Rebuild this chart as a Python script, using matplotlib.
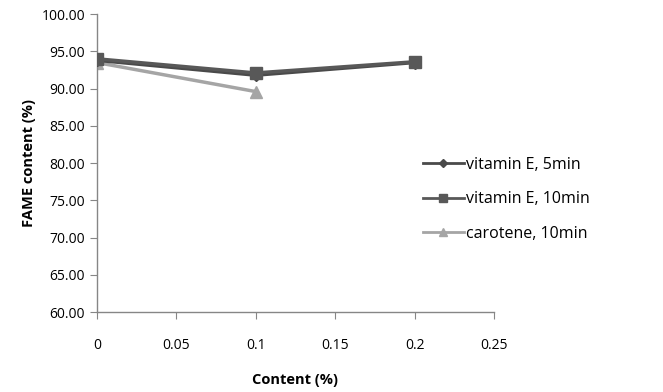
import matplotlib.pyplot as plt
from matplotlib.ticker import FormatStrFormatter

plt.rcParams["font.family"] = "Open Sans"

# data
content = [0, 0.1, 0.2]
vit_e_5min = [93.8, 91.8, 93.5]
vit_e_10min = [94.0, 92.1, 93.6]
carotene_content = [0, 0.1]
carotene_10min = [93.5, 89.6]

fig = plt.figure(figsize=(6.63, 3.92), dpi=100)
ax = fig.add_axes([0.146, 0.204, 0.599, 0.76])

ax.plot(content, vit_e_5min, color="#4a4a4a", lw=2.5, marker="D", ms=6,
        label="vitamin E, 5min", zorder=3)
ax.plot(content, vit_e_10min, color="#585858", lw=2.5, marker="s", ms=9,
        label="vitamin E, 10min", zorder=4)
ax.plot(carotene_content, carotene_10min, color="#a5a5a5", lw=2.5, marker="^", ms=8,
        label="carotene, 10min", zorder=2)

ax.set_xlim(0, 0.25)
ax.set_ylim(60, 100)
ax.set_xticks([0, 0.05, 0.1, 0.15, 0.2, 0.25])
ax.set_xticklabels(["0", "0.05", "0.1", "0.15", "0.2", "0.25"])
ax.set_yticks(range(60, 101, 5))
ax.yaxis.set_major_formatter(FormatStrFormatter("%.2f"))

for s in ["top", "right"]:
    ax.spines[s].set_visible(False)
for s in ["left", "bottom"]:
    ax.spines[s].set_color("#868686")
    ax.spines[s].set_linewidth(1)
ax.tick_params(colors="#868686", length=5, labelcolor="black", labelsize=10)
ax.tick_params(axis="x", pad=14)

ax.set_xlabel("Content (%)", fontsize=10.5, fontweight="bold", labelpad=14)
ax.set_ylabel("FAME content (%)", fontsize=10.5, fontweight="bold", labelpad=4)

leg = fig.legend(*ax.get_legend_handles_labels(), loc="center left",
                 bbox_to_anchor=(0.638, 0.492), frameon=False,
                 fontsize=11.5, handlelength=2.55, labelspacing=1.15,
                 handletextpad=0.15, borderpad=0, borderaxespad=0, markerscale=0.7)
for h in leg.legend_handles:
    h.set_linewidth(2)

fig.savefig("out.png", dpi=100)
